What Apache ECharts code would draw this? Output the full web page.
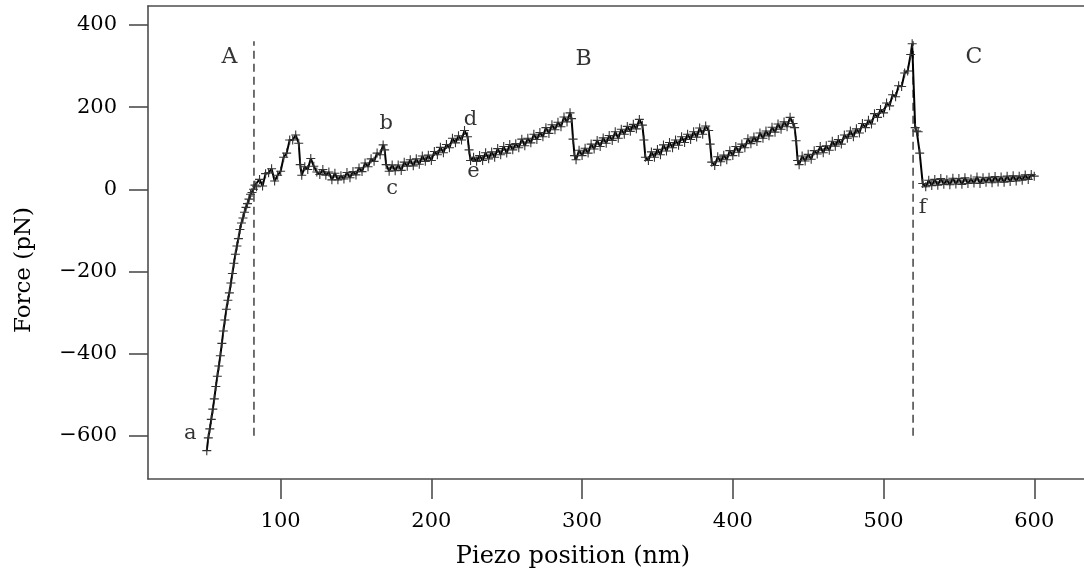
<!DOCTYPE html>
<html>
<head>
<meta charset="utf-8">
<script src="https://cdn.jsdelivr.net/npm/echarts@6/dist/echarts.min.js"></script>
<style>
  html, body { margin: 0; padding: 0; background: #ffffff; }
  #chart { width: 1084px; height: 575px; }
</style>
</head>
<body>
<div id="chart"></div>
<script>
// Force–extension trace: piezo position (nm) and measured force (pN)
const piezo = [
  51, 52, 53, 54, 55, 56, 57, 58, 59, 60, 61, 62, 63, 64, 65, 66, 67, 68, 69, 70,
  71, 72, 73, 74, 75, 76, 77, 78, 79, 80, 81, 82, 83,
  84, 86, 88, 90, 92, 94, 96, 98, 100, 102, 104, 106, 108, 110, 112, 113, 114,
  116, 118, 120, 122, 124, 126, 128, 130, 132, 134, 136, 138, 140, 142, 144, 146, 148, 150,
  152, 154, 156, 158, 160, 162, 164, 166, 168, 169, 170, 172,
  174, 176, 178, 180, 182, 184, 186, 188, 190, 192, 194, 196, 198, 200, 202, 204, 206, 208,
  210, 212, 214, 216, 218, 220, 222, 224, 225, 226, 228,
  230, 232, 234, 236, 238, 240, 242, 244, 246, 248, 250, 252, 254, 256, 258, 260, 262, 264,
  266, 268, 270, 272, 274, 276, 278, 280, 282, 284, 286, 288, 290, 292, 293, 294, 295, 296,
  298, 300, 302, 304, 306, 308, 310, 312, 314, 316, 318, 320, 322, 324, 326, 328, 330, 332,
  334, 336, 338, 340, 341, 342, 344,
  346, 348, 350, 352, 354, 356, 358, 360, 362, 364, 366, 368, 370, 372, 374, 376, 378, 380,
  382, 384, 385, 386, 388,
  390, 392, 394, 396, 398, 400, 402, 404, 406, 408, 410, 412, 414, 416, 418, 420, 422, 424,
  426, 428, 430, 432, 434, 436, 438, 440, 441, 442, 443, 444,
  446, 448, 450, 452, 454, 456, 458, 460, 462, 464, 466, 468, 470, 472, 474, 476, 478, 480,
  482, 484, 486, 488, 490, 492, 494, 496, 498, 500, 502, 504, 506, 508, 510, 512, 514, 516,
  518, 519, 521, 522, 523, 524, 526,
  528, 530, 532, 534, 536, 538, 540, 542, 544, 546, 548, 550, 552, 554, 556, 558, 560, 562,
  564, 566, 568, 570, 572, 574, 576, 578, 580, 582, 584, 586, 588, 590, 592, 594, 596, 598, 600
];

const force = [
  -636, -605, -583, -560, -535, -510, -480, -455, -430, -405, -375, -345, -318, -292, -270, -252, -228, -205, -180, -158,
  -138, -120, -98, -82, -70, -56, -44, -35, -24, -12, -8, 0, 10,
  6, 24, 8, 38, 40, 50, 20, 34, 44, 78, 88, 120, 120, 132, 112, 60, 34,
  55, 48, 75, 56, 42, 36, 48, 34, 42, 23, 39, 23, 33, 25, 41, 28, 43, 35,
  52, 43, 64, 55, 74, 68, 88, 84, 108, 96, 60, 44,
  59, 45, 59, 46, 66, 56, 72, 57, 74, 61, 81, 68, 83, 70, 92, 84, 102, 89,
  109, 101, 124, 113, 130, 120, 143, 128, 96, 70, 78,
  68, 82, 70, 89, 74, 91, 78, 99, 84, 104, 88, 109, 96, 111, 101, 122, 106, 124,
  113, 134, 121, 138, 128, 150, 136, 157, 145, 163, 152, 176, 164, 186, 172, 122, 82, 72,
  95, 82, 100, 88, 110, 98, 119, 104, 125, 112, 131, 119, 140, 124, 146, 134, 153, 141,
  158, 147, 170, 156, 120, 78, 70,
  91, 78, 97, 84, 108, 93, 114, 101, 120, 107, 128, 114, 134, 121, 140, 127, 149, 134,
  154, 143, 110, 66, 58,
  79, 67, 83, 72, 94, 82, 104, 90, 110, 101, 123, 111, 127, 116, 137, 124, 142, 130,
  151, 139, 159, 146, 164, 152, 175, 160, 150, 118, 70, 60,
  81, 69, 85, 73, 94, 86, 104, 89, 106, 95, 117, 105, 121, 110, 132, 124, 142, 128,
  147, 137, 160, 150, 168, 159, 184, 175, 194, 186, 210, 203, 230, 225, 252, 250, 283, 288,
  328, 354, 150, 142, 140, 88, 14,
  6, 22, 9, 24, 10, 26, 12, 23, 11, 27, 13, 26, 12, 28, 14, 25, 15, 30,
  14, 28, 17, 29, 16, 31, 18, 30, 17, 32, 19, 33, 20, 32, 22, 35, 24, 36, 32
];

// Phase boundaries (dashed verticals) and their vertical extent
const boundaryX = [82.3, 519.6];
const boundarySpan = [-600, 360];

// Tick values
const xTicks = [100, 200, 300, 400, 500, 600];
const yTicks = [-600, -400, -200, 0, 200, 400];

// Phase letters and event letters, in data coordinates
const phaseLabels = [[66, 322, 'A'], [301, 316, 'B'], [560, 321, 'C']];
const eventLabels = [
  [40, -594, 'a'], [170, 159, 'b'], [174, 2, 'c'],
  [226, 170, 'd'], [228, 44, 'e'], [526, -44, 'f']
];

const FONT = '"DejaVu Serif", "Liberation Serif", serif';
const INK = '#000000';
const AXIS = '#4d4d4d';
const X_RANGE = [12, 633];

const trace = piezo.map((x, i) => [x, force[i]]);

const chart = echarts.init(document.getElementById('chart'), null, { renderer: 'canvas' });

const boundarySeries = boundaryX.map(x => ({
  type: 'line',
  data: boundarySpan.map(y => [x, y]),
  symbol: 'none',
  silent: true,
  z: 1,
  lineStyle: { color: '#4d4d4d', width: 1.6, type: [8, 5] }
}));

const labelSeries = (items, size) => ({
  type: 'scatter',
  symbolSize: 0,
  silent: true,
  z: 5,
  data: items.map(d => ({ value: [d[0], d[1]], name: d[2] })),
  label: {
    show: true,
    position: 'inside',
    formatter: '{b}',
    fontFamily: FONT,
    fontSize: size,
    color: INK
  }
});

chart.setOption({
  animation: false,
  backgroundColor: '#ffffff',
  grid: { left: 148, top: 6, right: 0, bottom: 96, show: false },
  xAxis: [
    {
      type: 'value',
      min: X_RANGE[0], max: X_RANGE[1],
      axisLine: { show: true, onZero: false, lineStyle: { color: AXIS, width: 1.6 } },
      axisTick: { show: true, inside: false, length: 20, customValues: xTicks, lineStyle: { color: AXIS, width: 1.6 } },
      axisLabel: { customValues: xTicks, margin: 32, fontFamily: FONT, fontSize: 21, color: INK },
      splitLine: { show: false }
    },
    {
      // frame line along the top of the plotting region
      type: 'value',
      position: 'top',
      min: X_RANGE[0], max: X_RANGE[1],
      axisLine: { show: true, onZero: false, lineStyle: { color: AXIS, width: 1.6 } },
      axisTick: { show: false },
      axisLabel: { show: false },
      splitLine: { show: false }
    }
  ],
  yAxis: {
    type: 'value',
    min: -705, max: 446,
    axisLine: { show: true, onZero: false, lineStyle: { color: AXIS, width: 1.6 } },
    axisTick: { show: true, inside: false, length: 19, customValues: yTicks, lineStyle: { color: AXIS, width: 1.6 } },
    axisLabel: {
      customValues: yTicks, margin: 31, fontFamily: FONT, fontSize: 21, color: INK,
      formatter: v => (v < 0 ? '\u2212' + Math.abs(v) : String(v))
    },
    splitLine: { show: false }
  },
  graphic: [
    {
      type: 'text', x: 24, y: 270, rotation: Math.PI / 2,
      style: { text: 'Force (pN)', font: '23px ' + FONT, fill: INK, textAlign: 'center', textVerticalAlign: 'middle' }
    },
    {
      type: 'text', x: 573, y: 557,
      style: { text: 'Piezo position (nm)', font: '24px ' + FONT, fill: INK, textAlign: 'center', textVerticalAlign: 'middle' }
    }
  ],
  series: [
    ...boundarySeries,
    {
      type: 'line',
      data: trace,
      z: 3,
      showSymbol: true,
      showAllSymbol: true,
      symbol: 'path://M5,0L5,10M0,5L10,5',
      symbolSize: 9,
      itemStyle: { color: 'rgba(0,0,0,0)', borderColor: '#333333', borderWidth: 1.1 },
      lineStyle: { color: '#000000', width: 2 },
      silent: true
    },
    labelSeries(phaseLabels, 22),
    labelSeries(eventLabels, 21)
  ]
});
</script>
</body>
</html>
